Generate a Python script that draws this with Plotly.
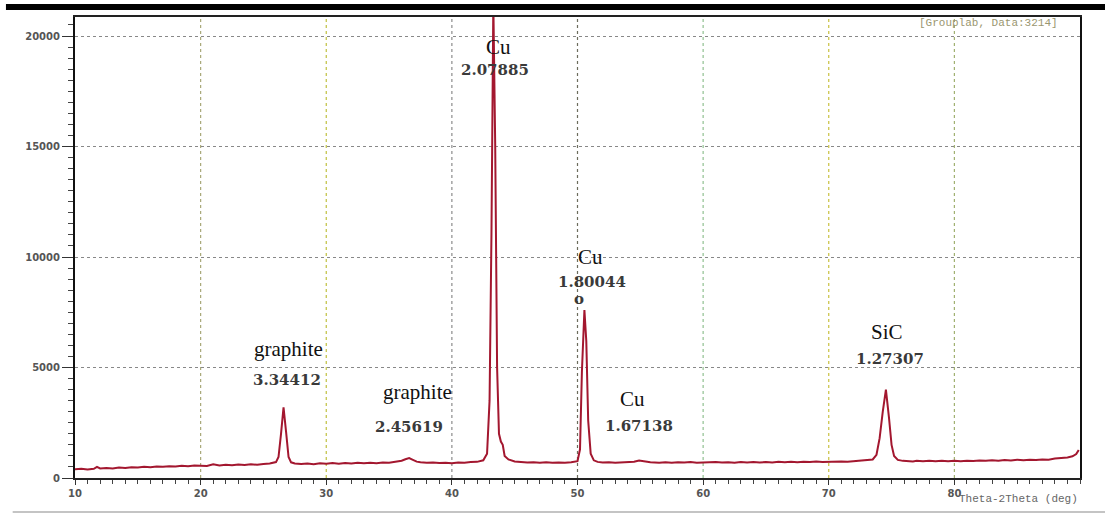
import plotly.graph_objects as go

# ---- data ----
two_theta = [10.0, 10.5, 11.0, 11.5, 11.75, 12.0, 12.5, 13.0, 13.5, 14.0, 14.5, 15.0, 15.5, 16.0, 16.5,
             17.0, 17.5, 18.0, 18.5, 19.0, 19.5, 20.0, 20.5, 21.0, 21.5, 22.0, 22.5, 23.0, 23.5, 24.0,
             24.5, 25.0, 25.5, 26.0, 26.2, 26.4, 26.6, 26.8, 27.0, 27.2, 27.5, 28.0, 28.5, 29.0, 29.5,
             30.0, 30.5, 31.0, 31.5, 32.0, 32.5, 33.0, 33.5, 34.0, 34.5, 35.0, 35.5, 36.0, 36.3, 36.6,
             36.9, 37.2, 37.5, 38.0, 38.5, 39.0, 39.5, 40.0, 40.5, 41.0, 41.5, 42.0, 42.5, 42.8, 43.0,
             43.15, 43.3, 43.45, 43.6, 43.75, 43.9, 44.05, 44.2, 44.5, 45.0, 45.5, 46.0, 46.5, 47.0, 47.5,
             48.0, 48.5, 49.0, 49.5, 50.0, 50.2, 50.35, 50.55, 50.7, 50.85, 51.05, 51.3, 51.6, 52.0, 52.5,
             53.0, 53.5, 54.0, 54.5, 54.9, 55.3, 55.8, 56.5, 57.0, 57.5, 58.0, 58.5, 59.0, 59.5, 60.0,
             60.5, 61.0, 61.5, 62.0, 62.5, 63.0, 63.5, 64.0, 64.5, 65.0, 65.5, 66.0, 66.5, 67.0, 67.5,
             68.0, 68.5, 69.0, 69.5, 70.0, 70.5, 71.0, 71.5, 72.0, 72.5, 73.0, 73.5, 73.8, 74.05, 74.3,
             74.55, 74.8, 75.0, 75.2, 75.5, 75.9, 76.3, 76.7, 77.0, 77.5, 78.0, 78.5, 79.0, 79.5, 80.0,
             80.5, 81.0, 81.5, 82.0, 82.5, 83.0, 83.5, 84.0, 84.5, 85.0, 85.5, 86.0, 86.5, 87.0, 87.5,
             88.0, 88.5, 89.0, 89.4, 89.7, 89.9]
intensity = [400, 420, 390, 415, 500, 430, 455, 430, 470, 455, 490, 470, 505, 490, 520,
             505, 535, 520, 550, 535, 565, 560, 545, 620, 570, 600, 575, 615, 590, 625,
             600, 635, 655, 720, 950, 2000, 3200, 2100, 950, 710, 660, 630, 655, 625, 665,
             650, 675, 650, 680, 655, 685, 665, 690, 670, 700, 685, 720, 780, 850, 900,
             820, 740, 710, 685, 705, 675, 695, 670, 700, 685, 720, 730, 800, 1100, 3500,
             11000, 21500, 15000, 5000, 2000, 1650, 1500, 1000, 840, 750, 720, 700, 715, 690, 710,
             685, 705, 690, 710, 760, 1300, 4800, 7600, 6200, 2600, 1100, 800, 730, 700, 715,
             690, 710, 700, 740, 790, 745, 710, 690, 710, 690, 715, 700, 720, 695, 705,
             690, 720, 700, 715, 695, 720, 705, 725, 700, 725, 705, 730, 710, 735, 715,
             740, 720, 745, 725, 740, 730, 750, 735, 760, 770, 790, 840, 1050, 1800, 3000,
             4000, 2700, 1500, 1000, 820, 775, 760, 750, 775, 755, 780, 760, 785, 760, 775,
             760, 785, 770, 790, 775, 800, 780, 810, 790, 830, 800, 825, 810, 840, 830,
             880, 890, 930, 980, 1080, 1270]

x_ticks = [10, 20, 30, 40, 50, 60, 70, 80]
y_ticks = [0, 5000, 10000, 15000, 20000]
y_tick_text = ["0", "5000", "10000", "15000", "20000"]

grid_x = [20, 30, 40, 50, 60, 70, 80]
grid_colors = ["#a8a878", "#c0c040", "#8c8c8c", "#6c6c5c", "#90c090", "#c8c040", "#a0b070"]

labels = [
    ("Cu", 43.75, 19500, "name"), ("2.07885", 43.4, 18450, "num"),
    ("Cu", 51.0, 10020, "name"), ("1.80044", 51.15, 8885, "num"),
    ("o", 50.1, 8110, "num"),
    ("graphite", 27.0, 5850, "name"), ("3.34412", 26.9, 4440, "num"),
    ("graphite", 37.3, 3900, "name"), ("2.45619", 36.6, 2310, "num"),
    ("Cu", 54.4, 3580, "name"), ("1.67138", 54.9, 2360, "num"),
    ("SiC", 74.67, 6620, "name"), ("1.27307", 74.9, 5400, "num"),
]

fig = go.Figure()
fig.add_trace(go.Scatter(x=two_theta, y=intensity, mode="lines",
                         line=dict(color="#a3172f", width=2), showlegend=False,
                         cliponaxis=True, hoverinfo="skip"))

for gx, gc in zip(grid_x, grid_colors):
    fig.add_shape(type="line", xref="x", yref="paper", x0=gx, x1=gx, y0=0, y1=1,
                  line=dict(color=gc, width=1.2, dash="dot"), layer="below")

for text, x, y, kind in labels:
    if kind == "name":
        font = dict(family="Liberation Serif", size=21, color="#111111")
    else:
        font = dict(family="DejaVu Serif", size=15, color="#3a3a3a", weight="bold")
    fig.add_annotation(x=x, y=y, text=text, showarrow=False, font=font,
                       xanchor="center", yanchor="middle")

fig.add_annotation(xref="paper", yref="paper", x=0.98, y=0.987, text="[Grouplab, Data:3214]",
                   showarrow=False, xanchor="right", yanchor="middle",
                   font=dict(family="Liberation Mono", size=11, color="#9a9670"))
fig.add_annotation(xref="paper", yref="paper", x=1.0, y=-0.0456, text="Theta-2Theta (deg)",
                   showarrow=False, xanchor="right", yanchor="middle",
                   font=dict(family="Liberation Mono", size=11, color="#666666"))

# top black bar and bottom grey rule
fig.add_shape(type="rect", xref="paper", yref="paper", x0=-0.0687, x1=1.03, y0=1.0152, y1=1.028,
              fillcolor="black", line=dict(width=0))
fig.add_shape(type="line", xref="paper", yref="paper", x0=-0.062, x1=1.03, y0=-0.0738, y1=-0.0738,
              line=dict(color="#b0b0b0", width=1.5))

fig.update_layout(
    width=1105, height=513,
    margin=dict(l=75, r=25, t=17, b=35),
    paper_bgcolor="white", plot_bgcolor="white",
    xaxis=dict(range=[10, 90], tickvals=x_ticks, automargin=False,
               showgrid=False, zeroline=False, showline=True, linecolor="#222", linewidth=1.5,
               mirror=True, ticks="outside", ticklen=5, tickcolor="#333",
               minor=dict(dtick=1, ticks="outside", ticklen=4, tickcolor="#444"),
               tickfont=dict(family="DejaVu Sans", size=10, color="#555", weight="bold")),
    yaxis=dict(range=[0, 20860], tickvals=y_ticks, ticktext=y_tick_text, automargin=False,
               showgrid=True, gridcolor="#888888", griddash="dot", gridwidth=1,
               zeroline=False, showline=True, linecolor="#111", linewidth=2,
               mirror=True, ticks="outside", ticklen=11, tickcolor="#333",
               minor=dict(dtick=500, ticks="outside", ticklen=5, tickcolor="#444", showgrid=False),
               tickfont=dict(family="DejaVu Sans", size=10, color="#555", weight="bold")),
)

fig.write_html("out.html", config={"displayModeBar": False},
               post_script="document.body.style.margin='0';document.body.style.overflow='hidden';")
